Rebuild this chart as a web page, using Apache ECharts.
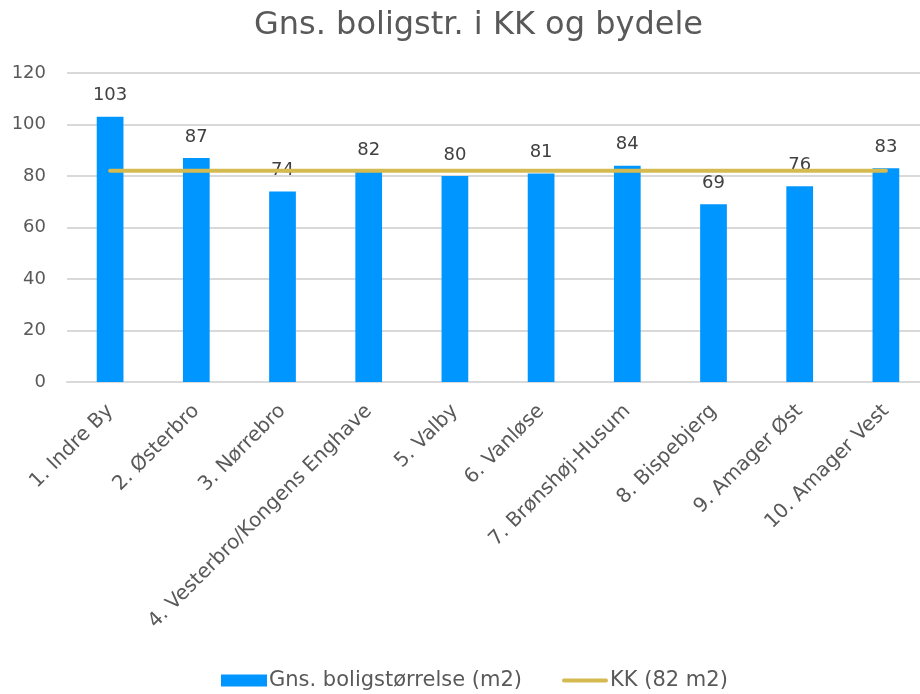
<!DOCTYPE html>
<html><head><meta charset="utf-8">
<script src="https://cdn.jsdelivr.net/npm/echarts@6/dist/echarts.min.js"></script>
<style>html,body{margin:0;padding:0;background:#fff}#c{width:920px;height:694px}</style>
</head><body><div id="c"></div>
<script>
const categories = ["1. Indre By","2. Østerbro","3. Nørrebro","4. Vesterbro/Kongens Enghave","5. Valby","6. Vanløse","7. Brønshøj-Husum","8. Bispebjerg","9. Amager Øst","10. Amager Vest"];
const boligValues = [103, 87, 74, 82, 80, 81, 84, 69, 76, 83];
const kkValues = [82, 82, 82, 82, 82, 82, 82, 82, 82, 82];
const yTicks = [0, 20, 40, 60, 80, 100, 120];

const font = "DejaVu Sans";
const lineIcon = 'path://M2,4 h44 a2,2 0 0 1 0,4 h-44 a2,2 0 0 1 0,-4 Z M0,0 h0.01 v0.01 h-0.01 Z M0,12 h0.01 v0.01 h-0.01 Z M48,0 h0.01 v0.01 h-0.01 Z';
const chart = echarts.init(document.getElementById('c'));
chart.setOption({
  animation: false,
  textStyle: { fontFamily: font },
  title: {
    text: "Gns. boligstr. i KK og bydele",
    left: 249, top: 5,
    textStyle: { fontFamily: font, fontSize: 32, fontWeight: 'normal', color: '#595959' }
  },
  legend: {
    bottom: -2, left: 216, itemGap: 40,
    itemWidth: 46, itemHeight: 12,
    textStyle: { fontFamily: font, fontSize: 21, color: '#595959', padding: [0, 0, 0, -3] },
    data: [
      { name: "Gns. boligstørrelse (m2)", icon: 'rect' },
      { name: "KK (82 m2)", icon: lineIcon }
    ]
  },
  grid: { left: 67, right: -9, top: 73, bottom: 312, outerBoundsMode: 'none', containLabel: false },
  xAxis: {
    type: 'category', data: categories,
    axisLine: { lineStyle: { color: '#d9d9d9', width: 2 } },
    axisTick: { show: false },
    axisLabel: { rotate: 45, interval: 0, margin: 26, fontFamily: font, fontSize: 20, color: '#595959' }
  },
  yAxis: {
    type: 'value', min: yTicks[0], max: yTicks[yTicks.length - 1], interval: 20,
    axisLine: { show: false }, axisTick: { show: false },
    axisLabel: { fontFamily: font, fontSize: 18, color: '#595959', margin: 21 },
    splitLine: { lineStyle: { color: '#d9d9d9', width: 2 } }
  },
  series: [
    {
      name: "Gns. boligstørrelse (m2)", type: 'bar', data: boligValues,
      barWidth: '31%',
      itemStyle: { color: '#0096FF' },
      label: { show: true, position: 'top', distance: 12, fontFamily: font, fontSize: 18, color: '#404040' }
    },
    {
      name: "KK (82 m2)", type: 'line', data: kkValues,
      symbol: 'none',
      lineStyle: { color: '#D4BA50', width: 4, cap: 'round' },
      itemStyle: { color: '#D4BA50' }
    }
  ]
});
</script></body></html>
